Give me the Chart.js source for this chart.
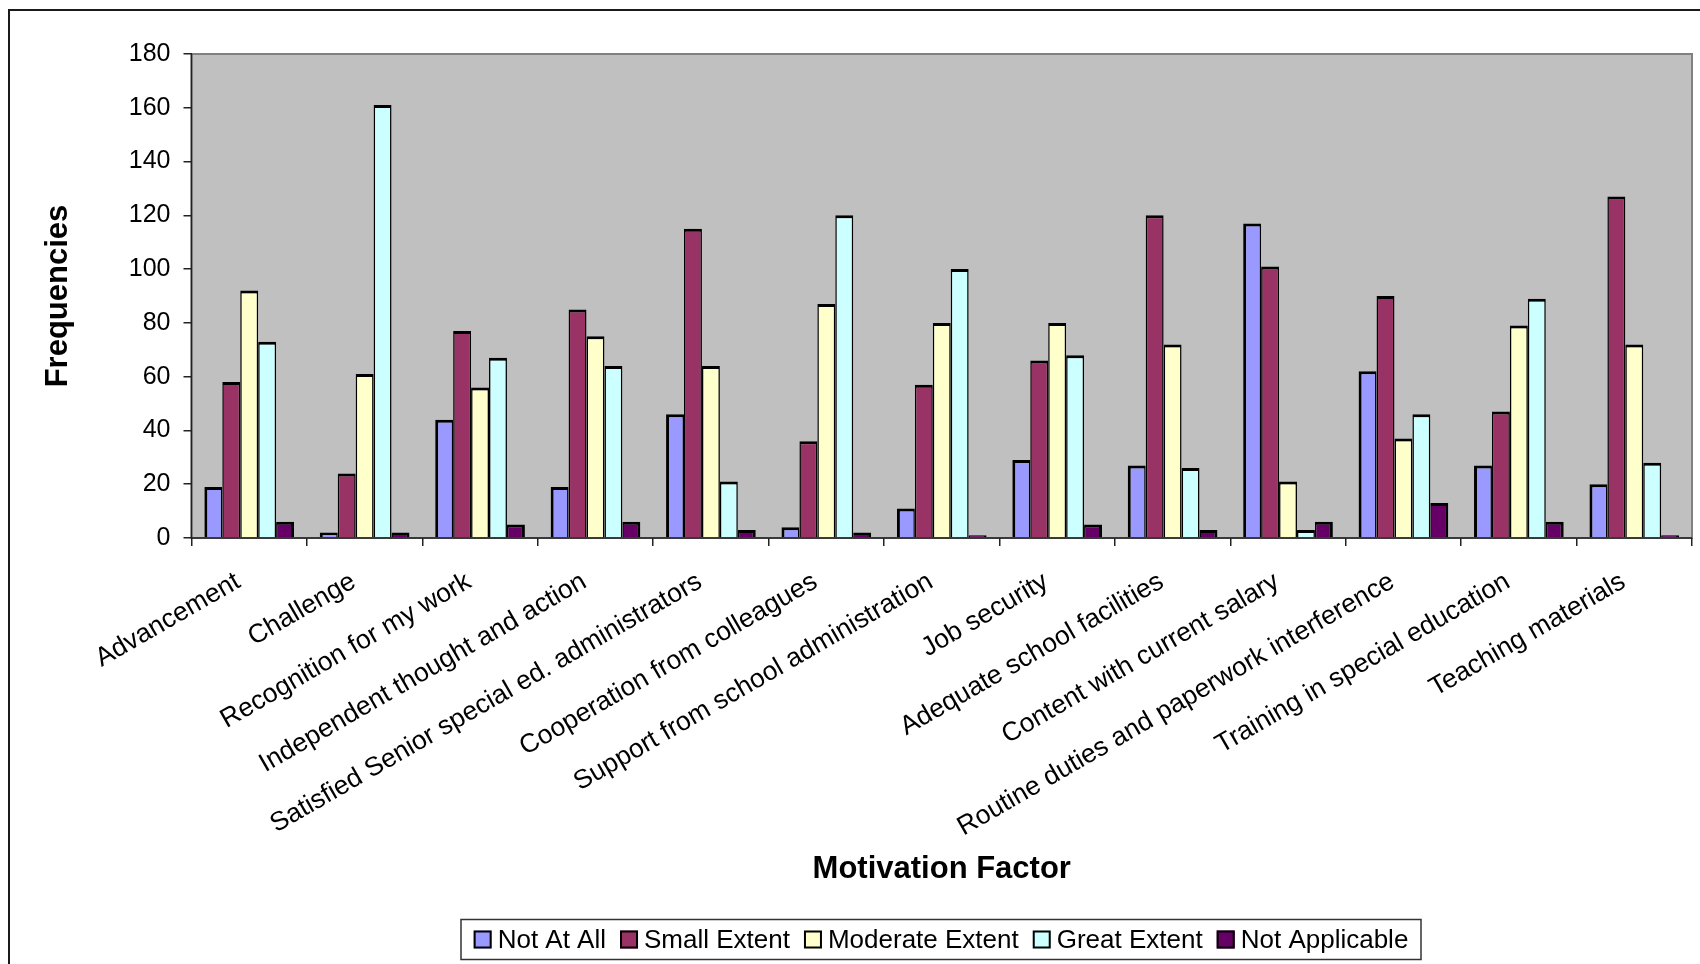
<!DOCTYPE html>
<html>
<head>
<meta charset="utf-8">
<title>Motivation Factor</title>
<script src="https://cdn.jsdelivr.net/npm/chart.js@4.4.1/dist/chart.umd.min.js"></script>
<style>
  html, body { margin: 0; padding: 0; background: #ffffff; }
  #wrap { width: 1700px; height: 964px; position: relative; }
</style>
</head>
<body>
<div id="wrap"><canvas id="chart" width="1700" height="964"></canvas></div>
<script>
// Motivation factors (x categories)
const categories = [
  "Advancement",
  "Challenge",
  "Recognition for my work",
  "Independent thought and action",
  "Satisfied Senior special ed. administrators",
  "Cooperation from colleagues",
  "Support from school administration",
  "Job security",
  "Adequate school facilities",
  "Content with current salary",
  "Routine duties and paperwork interference",
  "Training in special education",
  "Teaching materials"
];

// Response frequencies per series
const notAtAll       = [19,   2, 44, 19,  46,   4,  11, 29,  27, 117, 62, 27,  20];
const smallExtent    = [58,  24, 77, 85, 115,  36,  57, 66, 120, 101, 90, 47, 127];
const moderateExtent = [92,  61, 56, 75,  64,  87,  80, 80,  72,  21, 37, 79,  72];
const greatExtent    = [73, 161, 67, 64,  21, 120, 100, 68,  26,   3, 46, 89,  28];
const notApplicable  = [ 6,   2,  5,  6,   3,   2,   1,  5,   3,   6, 13,  6,   1];

const seriesNames = ["Not At All", "Small Extent", "Moderate Extent", "Great Extent", "Not Applicable"];

// Value axis range and tick step
const yMin = 0;
const yMax = 180;
const yStep = 20;

const FONT = '"Liberation Sans", Arial, Helvetica, sans-serif';
const colors = ["#9999FF", "#993366", "#FFFFCC", "#CCFFFF", "#660066"];
const seriesValues = [notAtAll, smallExtent, moderateExtent, greatExtent, notApplicable];

// Bars in a group share their inner edges, so the outer edges get the full width
function edgeWidths(i, n) {
  return { top: 3, left: i === 0 ? 3 : 1.5, right: i === n - 1 ? 3 : 1.5, bottom: 0 };
}

const datasets = seriesNames.map((name, i) => ({
  label: name,
  data: seriesValues[i],
  backgroundColor: colors[i],
  borderColor: "#000000",
  borderWidth: edgeWidths(i, seriesNames.length),
  borderSkipped: "start",
  barPercentage: 1.0,
  categoryPercentage: 0.777
}));

// Grey plot area, its frame, and the outer chart border
const plotBackground = {
  id: "plotBackground",
  beforeDraw(chart) {
    const { ctx, chartArea: a } = chart;
    ctx.save();
    ctx.fillStyle = "#ffffff";
    ctx.fillRect(0, 0, chart.width, chart.height);
    ctx.fillStyle = "#C0C0C0";
    ctx.fillRect(a.left, a.top, a.right - a.left, a.bottom - a.top);
    ctx.strokeStyle = "#808080";
    ctx.lineWidth = 2;
    ctx.strokeRect(a.left, a.top, a.right - a.left, a.bottom - a.top);
    ctx.strokeStyle = "#1a1a1a";
    ctx.lineWidth = 2;
    ctx.beginPath();
    ctx.moveTo(9, chart.height + 10);
    ctx.lineTo(9, 10);
    ctx.lineTo(chart.width + 10, 10);
    ctx.stroke();
    ctx.restore();
  }
};

// Axis lines drawn over the bar bases
const axisLines = {
  id: "axisLines",
  afterDatasetsDraw(chart) {
    const { ctx, chartArea: a } = chart;
    ctx.save();
    ctx.strokeStyle = "#222222";
    ctx.lineWidth = 1.5;
    ctx.beginPath();
    ctx.moveTo(a.left, a.top);
    ctx.lineTo(a.left, a.bottom);
    ctx.lineTo(a.right, a.bottom);
    ctx.stroke();
    ctx.restore();
  }
};

// Boxed legend in one row under the axis title
const boxedLegend = {
  id: "boxedLegend",
  afterDraw(chart) {
    const { ctx } = chart;
    const box = { left: 461, top: 919.5, right: 1421, bottom: 959.5 };
    const sw = 18, gapText = 6, gapItem = 14;
    ctx.save();
    ctx.font = "26px " + FONT;
    ctx.textBaseline = "middle";
    ctx.textAlign = "left";
    const items = chart.data.datasets.map(d => ({ label: d.label, color: d.backgroundColor, w: ctx.measureText(d.label).width }));
    const total = items.reduce((s, it) => s + sw + gapText + it.w, 0) + gapItem * (items.length - 1);
    let x = (box.left + box.right) / 2 - total / 2;
    const cy = (box.top + box.bottom) / 2;
    ctx.fillStyle = "#ffffff";
    ctx.fillRect(box.left, box.top, box.right - box.left, box.bottom - box.top);
    ctx.strokeStyle = "#333333";
    ctx.lineWidth = 1.5;
    ctx.strokeRect(box.left, box.top, box.right - box.left, box.bottom - box.top);
    items.forEach(it => {
      ctx.fillStyle = it.color;
      ctx.fillRect(x, cy - sw / 2, sw, sw);
      ctx.strokeStyle = "#000000";
      ctx.lineWidth = 2;
      ctx.strokeRect(x + 1, cy - sw / 2 + 1, sw - 2, sw - 2);
      ctx.fillStyle = "#000000";
      ctx.fillText(it.label, x + sw + gapText, cy + 1);
      x += sw + gapText + it.w + gapItem;
    });
    ctx.restore();
  }
};

new Chart(document.getElementById("chart"), {
  type: "bar",
  data: { labels: categories, datasets: datasets },
  plugins: [plotBackground, axisLines, boxedLegend],
  options: {
    responsive: false,
    animation: false,
    devicePixelRatio: 1,
    layout: { padding: { left: 0, top: 54, right: 8, bottom: 46 } },
    plugins: {
      legend: { display: false },
      tooltip: { enabled: false },
      title: { display: false }
    },
    scales: {
      x: {
        afterFit(scale) { scale.height = 380; },
        grid: {
          display: true,
          offset: true,
          drawOnChartArea: false,
          drawTicks: true,
          tickLength: 8,
          color: "#222222",
          lineWidth: 1.5
        },
        border: { display: false },
        ticks: {
          autoSkip: false,
          minRotation: 30,
          maxRotation: 30,
          padding: 20,
          labelOffset: -11,
          color: "#000000",
          font: { family: FONT, size: 26.5 }
        },
        title: {
          display: true,
          text: "Motivation Factor",
          color: "#000000",
          font: { family: FONT, size: 31, weight: "bold", lineHeight: 1 },
          padding: { top: 0, bottom: 33 }
        }
      },
      y: {
        min: yMin,
        max: yMax,
        afterFit(scale) { scale.width = 191.5; },
        grid: {
          display: true,
          drawOnChartArea: false,
          drawTicks: true,
          tickLength: 8,
          color: "#222222",
          lineWidth: 1.5
        },
        border: { display: false },
        ticks: {
          stepSize: yStep,
          padding: 13,
          color: "#000000",
          font: { family: FONT, size: 25 }
        },
        title: {
          display: true,
          text: "Frequencies",
          color: "#000000",
          font: { family: FONT, size: 31, weight: "bold", lineHeight: 1 },
          padding: { top: 42.5, bottom: 0 }
        }
      }
    }
  }
});
</script>
</body>
</html>
